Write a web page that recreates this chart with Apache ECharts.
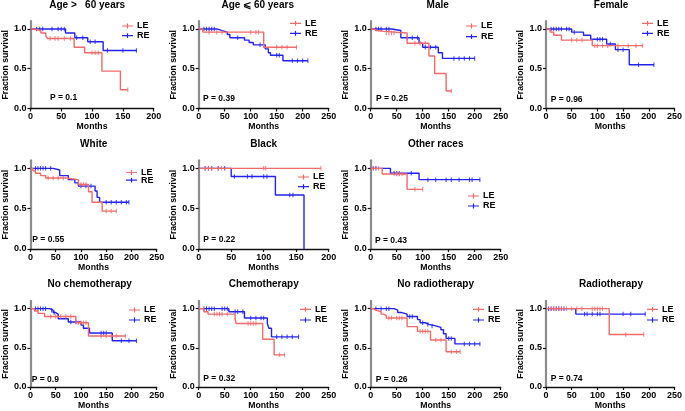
<!DOCTYPE html>
<html><head><meta charset="utf-8">
<script src="https://cdn.jsdelivr.net/npm/echarts@6/dist/echarts.min.js"></script>
<style>html,body{margin:0;padding:0;background:#fff}#c{width:685px;height:411px}</style>
</head><body><div id="c"></div>
<script>
// ---- Data: Kaplan-Meier step points [months, survival] and censored times ----
const age60up_LE = [[0,1],[5,0.98],[17,0.95],[25,0.91],[28,0.88],[71,0.77],[88,0.70],[116,0.47],[146,0.235],[158,0.235]];
const age60up_LE_cens = [32,40,45,55,65,100,105,110,158];
const age60up_RE = [[0,1],[57,0.95],[72,0.89],[93,0.84],[118,0.73],[172,0.73]];
const age60up_RE_cens = [10,15,20,35,45,50,55,75,85,97,105,125,150,172];

const age60dn_LE = [[0,1],[8,0.96],[125,0.77],[188,0.77]];
const age60dn_LE_cens = [20,35,45,100,110,115,150,160,170,188];
const age60dn_RE = [[0,1],[35,0.98],[45,0.96],[55,0.93],[60,0.89],[88,0.86],[97,0.83],[105,0.80],[128,0.75],[134,0.70],[138,0.67],[162,0.60],[210,0.60]];
const age60dn_RE_cens = [10,15,20,25,30,75,118,150,155,180,190,200,210];

const male_LE = [[0,1],[5,0.98],[12,0.97],[25,0.95],[70,0.82],[112,0.66],[123,0.44],[145,0.22],[155,0.22]];
const male_LE_cens = [30,35,40,45,85,95,105,155];
const male_RE = [[0,1],[40,0.98],[58,0.89],[93,0.82],[100,0.77],[130,0.70],[138,0.63],[200,0.63]];
const male_RE_cens = [10,15,20,30,35,70,80,90,105,115,125,160,170,180,190,200];

const female_LE = [[0,1],[8,0.96],[15,0.92],[30,0.86],[90,0.79],[188,0.79]];
const female_LE_cens = [50,60,70,95,100,110,120,140,160,175,188];
const female_RE = [[0,1],[50,0.96],[73,0.92],[87,0.87],[118,0.81],[135,0.74],[162,0.55],[210,0.55]];
const female_RE_cens = [10,15,20,25,30,40,45,55,100,105,110,125,140,150,180,210];

const white_LE = [[0,1],[5,0.97],[10,0.94],[20,0.91],[30,0.88],[70,0.86],[95,0.80],[115,0.71],[122,0.58],[142,0.47],[170,0.47]];
const white_LE_cens = [35,45,55,65,100,105,110,150,160,170];
const white_RE = [[0,1],[45,0.98],[58,0.91],[75,0.86],[88,0.82],[95,0.78],[128,0.72],[132,0.64],[137,0.58],[195,0.58]];
const white_RE_cens = [10,15,20,25,30,40,100,110,120,150,160,170,180,190,195];

const black_LE = [[0,1],[188,1]];
const black_LE_cens = [10,15,20,30,35,100,103,188];
const black_RE = [[0,1],[50,0.9],[118,0.67],[162,0]];
const black_RE_cens = [10,15,20,30,40,55,75,82,100,105,140,145];

const other_LE = [[0,1],[22,0.93],[70,0.74],[100,0.74]];
const other_LE_cens = [5,15,50,55,60,85,100];
const other_RE = [[0,1],[38,0.94],[93,0.86],[210,0.86]];
const other_RE_cens = [5,10,45,50,55,78,110,125,145,155,170,190,195,210];

const nochemo_LE = [[0,1],[8,0.97],[15,0.94],[28,0.90],[90,0.82],[115,0.65],[188,0.65]];
const nochemo_LE_cens = [40,50,60,70,80,95,100,105,110,140,150,160,170,188];
const nochemo_RE = [[0,1],[38,0.98],[45,0.95],[50,0.93],[55,0.87],[75,0.83],[100,0.79],[105,0.75],[117,0.69],[162,0.59],[210,0.59]];
const nochemo_RE_cens = [10,15,20,25,30,42,47,80,90,140,145,150,180,195,210];

const chemo_LE = [[0,1],[10,0.96],[18,0.93],[70,0.87],[72,0.81],[123,0.61],[145,0.41],[165,0.41]];
const chemo_LE_cens = [30,35,40,45,55,95,100,105,110,155,165];
const chemo_RE = [[0,1],[58,0.96],[88,0.88],[132,0.81],[135,0.75],[140,0.64],[192,0.64]];
const chemo_RE_cens = [10,15,20,25,30,45,50,55,70,75,85,100,110,120,125,150,160,170,180,192];

const noradio_LE = [[0,1],[5,0.98],[10,0.96],[20,0.93],[25,0.91],[30,0.88],[70,0.77],[90,0.71],[115,0.60],[145,0.45],[172,0.45]];
const noradio_LE_cens = [35,40,50,55,60,95,100,105,110,125,135,155,165,172];
const noradio_RE = [[0,1],[45,0.98],[52,0.95],[60,0.93],[70,0.90],[90,0.86],[95,0.82],[105,0.80],[112,0.78],[125,0.76],[135,0.73],[140,0.68],[145,0.62],[162,0.55],[210,0.55]];
const noradio_RE_cens = [10,20,30,35,75,80,100,110,118,150,155,180,190,200,210];

const radio_LE = [[0,1],[123,0.67],[190,0.67]];
const radio_LE_cens = [10,15,20,25,30,40,50,60,70,90,95,100,105,110,155,190];
const radio_RE = [[0,1],[58,0.93],[193,0.93]];
const radio_RE_cens = [5,10,15,20,25,30,35,75,80,90,100,105,150,165,193];

const panelTitles = ['Age >   60 years','Age \u2A7D 60 years','Male','Female','White','Black','Other races','No chemotherapy','Chemotherapy','No radiotherapy','Radiotherapy'];
const pValues = ['P = 0.1','P = 0.39','P = 0.25','P = 0.96','P = 0.55','P = 0.22','P = 0.43','P = 0.9','P = 0.32','P = 0.26','P = 0.74'];
const xMaxes = [200,250,250,250,250,200,250,250,250,250,250];
const yTicks = [0, 0.5, 1.0];
const seriesNames = ['LE','RE'];
const curves = [
  [age60up_LE, age60up_LE_cens, age60up_RE, age60up_RE_cens],
  [age60dn_LE, age60dn_LE_cens, age60dn_RE, age60dn_RE_cens],
  [male_LE, male_LE_cens, male_RE, male_RE_cens],
  [female_LE, female_LE_cens, female_RE, female_RE_cens],
  [white_LE, white_LE_cens, white_RE, white_RE_cens],
  [black_LE, black_LE_cens, black_RE, black_RE_cens],
  [other_LE, other_LE_cens, other_RE, other_RE_cens],
  [nochemo_LE, nochemo_LE_cens, nochemo_RE, nochemo_RE_cens],
  [chemo_LE, chemo_LE_cens, chemo_RE, chemo_RE_cens],
  [noradio_LE, noradio_LE_cens, noradio_RE, noradio_RE_cens],
  [radio_LE, radio_LE_cens, radio_RE, radio_RE_cens]
];

// ---- Layout (pixels) ----
const colLeft = [26.7, 198.7, 370.7, 546];
const rowTop = [21, 160.3, 300.8];
const rowH = [87.5, 88.7, 87.8];
const slots = [[0,0],[0,1],[0,2],[0,3],[1,0],[1,1],[1,2],[2,0],[2,1],[2,2],[2,3]];
const widths = [127,130,130,130,130,130,130,130,130,130,130];
const titleY = [5, 144.3, 284];
const pPos = [[50,98],[203,99],[376,98.7],[550.7,99.3],[32.3,240],[203.3,240],[375,240.3],[31.7,379.3],[203.3,379],[375.7,379.3],[550.7,379]];
const legPos = [[122,26,35.7],[290,23.3,33.3],[466,26,36.7],[642,23.3,33.3],[126,172.5,180.2],[298,177,186.7],[468,196,206],[129,310,320],[300,309.3,320],[473,309.3,320],[647,309.3,320]];
const titleDX = [-3,-6,2,0,2,0,0,-2,0,0,0];

const FONT = "'Liberation Sans', Arial, sans-serif";
const LE_COLOR = '#f26a6a';
const RE_COLOR = '#2222f2';
const colors = [LE_COLOR, RE_COLOR];
const LEGEND_ICON = 'path://M0,2.4h11v1.2h-11z M4.9,0.6h1.2v4.8h-1.2z';

function survAt(steps, t) {
  let v = steps[0][1];
  for (const p of steps) { if (p[0] <= t) v = p[1]; }
  return v;
}

const grid = [], xAxis = [], yAxis = [], series = [], legend = [], graphic = [];
panelTitles.forEach((name, i) => {
  const [r, c] = slots[i];
  const left = colLeft[c], top = rowTop[r], w = widths[i], h = rowH[r];
  grid.push({left: left, top: top, width: w, height: h, containLabel: false});
  xAxis.push({
    gridIndex: i, type: 'value', min: 0, max: xMaxes[i], interval: 50,
    name: 'Months', nameLocation: 'middle', nameGap: 14,
    nameTextStyle: {fontFamily: FONT, fontWeight: 'bold', fontSize: 8.7, color: '#000'},
    axisLine: {lineStyle: {color: '#111', width: 1.4}},
    axisTick: {length: 3, lineStyle: {color: '#111', width: 1.2}},
    axisLabel: {fontFamily: FONT, fontWeight: 'bold', fontSize: 9, color: '#000', margin: 4},
    splitLine: {show: false}
  });
  yAxis.push({
    gridIndex: i, type: 'value', min: 0, max: 1.1, interval: 0.5,
    name: 'Fraction survival', nameLocation: 'middle', nameGap: 17,
    nameTextStyle: {fontFamily: FONT, fontWeight: 'bold', fontSize: 8.7, color: '#000'},
    axisLine: {show: true, lineStyle: {color: '#8c8c8c', width: 2.2}},
    axisTick: {show: true, length: 3, customValues: yTicks, lineStyle: {color: '#111', width: 1.2}},
    axisLabel: {customValues: yTicks, fontFamily: FONT, fontWeight: 'bold', fontSize: 9, color: '#000', margin: 4,
      formatter: v => v.toFixed(1)},
    splitLine: {show: false}
  });
  // draw RE first, then LE on top
  [1, 0].forEach(k => {
    const steps = curves[i][k * 2];
    const cens = curves[i][k * 2 + 1];
    series.push({
      type: 'line', name: seriesNames[k], xAxisIndex: i, yAxisIndex: i,
      data: steps, step: 'end', showSymbol: false, symbol: 'none',
      lineStyle: {width: 1.4, color: colors[k]}, itemStyle: {color: colors[k]},
      animation: false, silent: true, z: 2 + (1 - k)
    });
    series.push({
      type: 'scatter', name: seriesNames[k] + ' censored', xAxisIndex: i, yAxisIndex: i,
      data: cens.map(t => [t, survAt(steps, t)]),
      symbol: 'rect', symbolSize: [1.1, 4.5], itemStyle: {color: colors[k]},
      animation: false, silent: true, z: 2 + (1 - k)
    });
  });
  // legends, one per entry
  [0, 1].forEach(k => {
    legend.push({
      left: legPos[i][0], top: legPos[i][1 + k] - 5, padding: 0, itemGap: 0,
      itemWidth: 11, itemHeight: 6, selectedMode: false, icon: LEGEND_ICON,
      itemStyle: {color: colors[k], borderWidth: 0},
      data: [{name: seriesNames[k], icon: LEGEND_ICON, itemStyle: {color: colors[k], borderWidth: 0}}],
      textStyle: {fontFamily: FONT, fontWeight: 'bold', fontSize: 9, color: '#000', lineHeight: 10, padding: [0,0,0,-1]}
    });
  });
  graphic.push({
    type: 'text', x: left + w / 2 + titleDX[i], y: titleY[r], silent: true,
    style: {text: name, font: "bold 10px " + FONT, fill: '#000', align: 'center', verticalAlign: 'middle'}
  });
  graphic.push({
    type: 'text', x: pPos[i][0], y: pPos[i][1], silent: true,
    style: {text: pValues[i], font: "bold 8.5px " + FONT, fill: '#000', align: 'left', verticalAlign: 'middle'}
  });
});

const chart = echarts.init(document.getElementById('c'), null, {renderer: 'canvas'});
chart.setOption({
  animation: false,
  backgroundColor: '#fff',
  grid, xAxis, yAxis, series, legend, graphic
});
</script>
</body></html>
